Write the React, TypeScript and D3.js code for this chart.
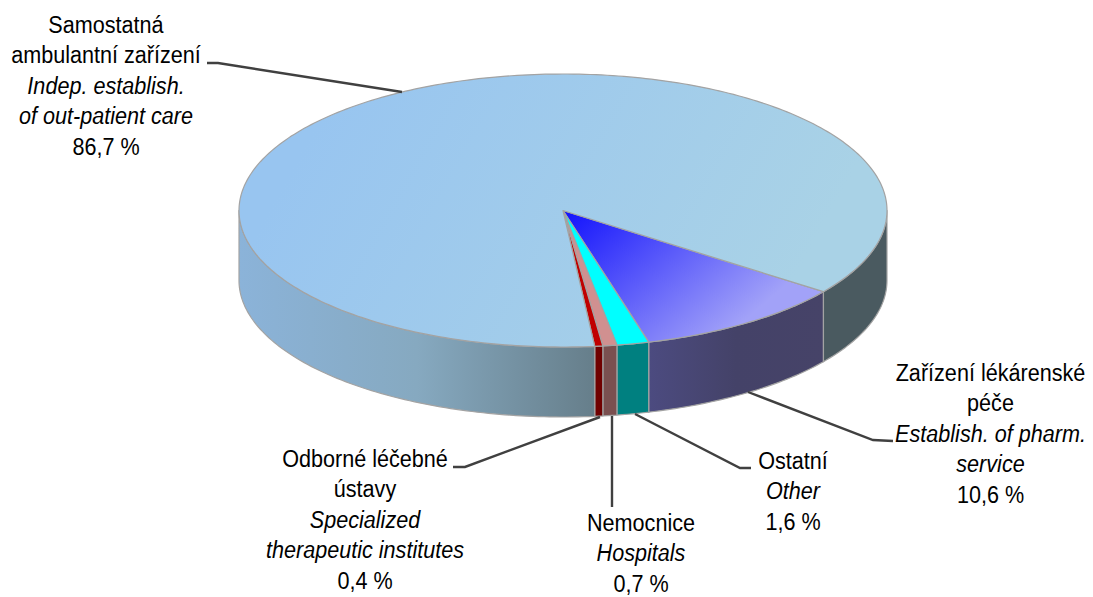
import React from "react";
import * as d3 from "d3";

const sliceNames = ["Zařízení lékárenské péče", "Ostatní", "Nemocnice", "Odborné léčebné ústavy", "Samostatná ambulantní zařízení"];
const sliceValues = [10.6, 1.6, 0.7, 0.4, 86.7];
const labelTexts: [string, boolean][][] = [
  [["Zařízení lékárenské", false], ["péče", false], ["Establish. of pharm.", true], ["service", true], ["10,6 %", false]],
  [["Ostatní", false], ["Other", true], ["1,6 %", false]],
  [["Nemocnice", false], ["Hospitals", true], ["0,7 %", false]],
  [["Odborné léčebné", false], ["ústavy", false], ["Specialized", true], ["therapeutic institutes", true], ["0,4 %", false]],
  [["Samostatná", false], ["ambulantní zařízení", false], ["Indep. establish.", true], ["of out-patient care", true], ["86,7 %", false]],
];

const W = 1093, H = 597;
const CX = 563, CY = 210.5, RX = 324, RY = 136.5, DEPTH = 70;
const START = (126.5 * Math.PI) / 180;
const LINE_PITCH = 30.4;

const topFill = ["url(#gBlue)", "#00ffff", "#d09090", "#c00000", "url(#gMain)"];
const wallFill = ["url(#wBlue)", "#008080", "#7a5050", "#700000", "url(#wMain)"];
const wallRight = "#4a5a60";

const labelPos = [
  { x: 990.5, y: 381 },
  { x: 793, y: 469 },
  { x: 641, y: 531 },
  { x: 365, y: 467 },
  { x: 106, y: 33 },
];
const leaders = [
  [[748, 392], [873, 440], [893, 441]],
  [[635, 414], [740, 468], [751, 468]],
  [[612, 416], [612, 507]],
  [[600, 417], [465, 467], [453, 467]],
  [[402, 92], [218, 63], [207, 63]],
];

const px = d3.scaleLinear().domain([-1, 1]).range([CX - RX, CX + RX]);
const py = d3.scaleLinear().domain([-1, 1]).range([CY - RY, CY + RY]);
const project = (a: number, z = 0): [number, number] => [px(Math.sin(a)), py(-Math.cos(a)) + z];

const range = (a0: number, a1: number) => {
  const n = Math.max(2, Math.ceil(((a1 - a0) * 180) / Math.PI));
  return d3.range(n + 1).map((i) => a0 + ((a1 - a0) * i) / n);
};
const line = d3.line().curve(d3.curveLinear);

const pieLayout = d3.pie<number>().sort(null).startAngle(START).endAngle(START + 2 * Math.PI);
const arcs = pieLayout(sliceValues);

const topPath = (a0: number, a1: number) =>
  line([[CX, CY], ...range(a0, a1).map((a) => project(a))])! + "Z";
const wallPath = (a0: number, a1: number) => {
  const pts = range(a0, a1);
  return line([...pts.map((a) => project(a)), ...pts.slice().reverse().map((a) => project(a, DEPTH))])! + "Z";
};
const P = Math.PI;
const visible = (a0: number, a1: number) => {
  const out: [number, number][] = [];
  for (const [l, h] of [[P / 2, (3 * P) / 2], [(5 * P) / 2, (7 * P) / 2]]) {
    const s = Math.max(a0, l), e = Math.min(a1, h);
    if (e > s) out.push([s, e]);
  }
  return out;
};

const font = "'Liberation Sans', Arial, sans-serif";

export default function App() {
  return (
    <svg width={W} height={H} style={{ position: "absolute", left: 0, top: 0 }} xmlns="http://www.w3.org/2000/svg">
      <defs>
        <linearGradient id="gMain" gradientUnits="userSpaceOnUse" x1={330} y1={100} x2={760} y2={340}>
          <stop offset="0" stopColor="#98c5f0" />
          <stop offset="1" stopColor="#a9d2e6" />
        </linearGradient>
        <linearGradient id="gBlue" gradientUnits="userSpaceOnUse" x1={575} y1={205} x2={705} y2={355}>
          <stop offset="0" stopColor="#1414fc" />
          <stop offset="1" stopColor="#a2a2f8" />
        </linearGradient>
        <linearGradient id="wMain" gradientUnits="userSpaceOnUse" x1={239} y1={0} x2={596} y2={0}>
          <stop offset="0" stopColor="#8bb3d9" />
          <stop offset="0.5" stopColor="#86a9c0" />
          <stop offset="1" stopColor="#667e8a" />
        </linearGradient>
        <linearGradient id="wBlue" gradientUnits="userSpaceOnUse" x1={649} y1={0} x2={823} y2={0}>
          <stop offset="0" stopColor="#4c4b80" />
          <stop offset="0.5" stopColor="#444268" />
          <stop offset="1" stopColor="#464368" />
        </linearGradient>
      </defs>
      {arcs.map((d, i) =>
        visible(d.startAngle, d.endAngle).map(([s, e], j) => (
          <path
            key={`w${i}-${j}`}
            d={wallPath(s, e)}
            fill={i === 4 && s > P * 2 ? wallRight : wallFill[i]}
            stroke="#a3a3a3"
            strokeWidth={1.2}
            strokeLinejoin="round"
          />
        ))
      )}
      {arcs.map((d, i) => (
        <path
          key={`t${i}`}
          d={topPath(d.startAngle, d.endAngle)}
          fill={topFill[i]}
          stroke="#a3a3a3"
          strokeWidth={1.2}
          strokeLinejoin="round"
        />
      ))}
      {leaders.map((pts, i) => (
        <path key={`l${i}`} d={line(pts as [number, number][])!} fill="none" stroke="#404040" strokeWidth={2.4} />
      ))}
      {labelTexts.map((lines, i) => (
        <g key={`x${i}`} aria-label={sliceNames[i]}>
          {lines.map(([t, it], k) => (
            <text
              key={k}
              transform={`translate(${labelPos[i].x},${labelPos[i].y + k * LINE_PITCH}) scale(0.889,1)`}
              textAnchor="middle"
              fontFamily={font}
              fontSize={24.3}
              fontStyle={it ? "italic" : "normal"}
              fill="#000"
            >
              {t}
            </text>
          ))}
        </g>
      ))}
    </svg>
  );
}
